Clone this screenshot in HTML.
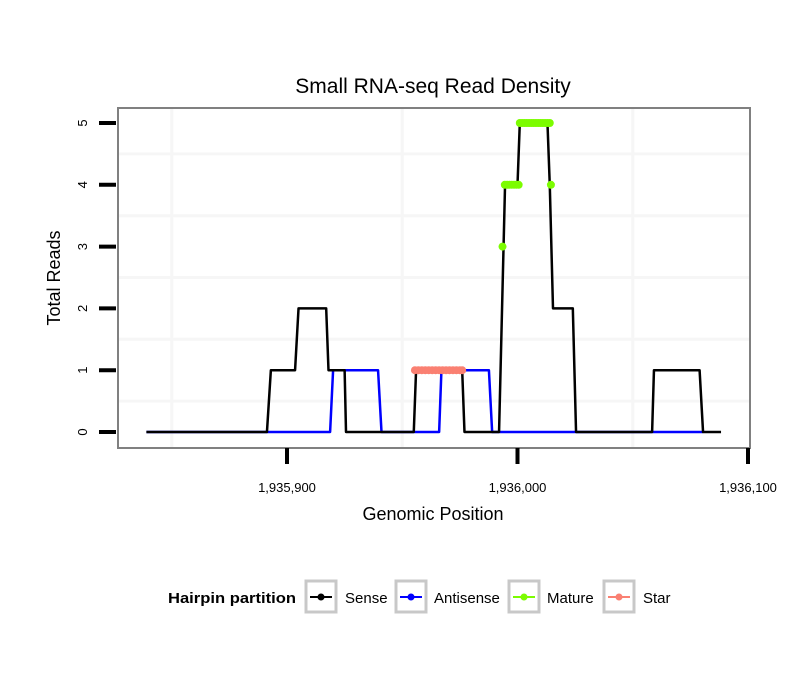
<!DOCTYPE html>
<html><head><meta charset="utf-8"><style>
body{margin:0;background:#fff;}
svg{display:block;font-family:"Liberation Sans",sans-serif;}
</style></head><body>
<svg id="chart" width="810" height="690">
<rect width="810" height="690" fill="#fff"/>
<text x="433" y="93" font-size="21" text-anchor="middle">Small RNA-seq Read Density</text>
<g id="grid"></g>
<g id="series"></g>
<rect x="118" y="108" width="632" height="340" fill="none" stroke="#808080" stroke-width="2"/>
<g id="axes"></g>
<text x="433" y="520" font-size="18" text-anchor="middle">Genomic Position</text>
<text transform="translate(60,278) rotate(-90)" font-size="18" text-anchor="middle">Total Reads</text>
<g>
<text x="168" y="603" font-size="15" font-weight="bold" textLength="128" lengthAdjust="spacingAndGlyphs">Hairpin partition</text>
<g><rect x="306" y="581" width="30" height="31" fill="#fff" stroke="#c8c8c8" stroke-width="3"/><line x1="310" y1="597" x2="332" y2="597" stroke="#000" stroke-width="2"/><circle cx="321" cy="597" r="3.5" fill="#000"/><text x="345" y="603" font-size="15">Sense</text></g>
<g><rect x="396" y="581" width="30" height="31" fill="#fff" stroke="#c8c8c8" stroke-width="3"/><line x1="400" y1="597" x2="422" y2="597" stroke="#00f" stroke-width="2"/><circle cx="411" cy="597" r="3.5" fill="#00f"/><text x="434" y="603" font-size="15">Antisense</text></g>
<g><rect x="509" y="581" width="30" height="31" fill="#fff" stroke="#c8c8c8" stroke-width="3"/><line x1="513" y1="597" x2="535" y2="597" stroke="#7cfc00" stroke-width="2"/><circle cx="524" cy="597" r="3.5" fill="#7cfc00"/><text x="547" y="603" font-size="15">Mature</text></g>
<g><rect x="604" y="581" width="30" height="31" fill="#fff" stroke="#c8c8c8" stroke-width="3"/><line x1="608" y1="597" x2="630" y2="597" stroke="#fa8072" stroke-width="2"/><circle cx="619" cy="597" r="3.5" fill="#fa8072"/><text x="643" y="603" font-size="15">Star</text></g>
</g>
</svg>
<script>
const xTicks=[1935900,1936000,1936100];
const xTickLabels=["1,935,900","1,936,000","1,936,100"];
const yTicks=[0,1,2,3,4,5];
const xGrid=[1935850,1935950,1936050];
const yGrid=[0.5,1.5,2.5,3.5,4.5];
const senseX=[1935839,1935891.3,1935893,1935903.5,1935905,1935917,1935918,1935925,1935925.6,1935955,1935956,1935976,1935977,1935992,1935994.6,1936000,1936001,1936013,1936014,1936015.4,1936024,1936025.4,1936058.4,1936059.2,1936079,1936080.5,1936088.3];
const senseY=[0,0,1,1,2,2,1,1,0,0,1,1,0,0,4,4,5,5,4,2,2,0,0,1,1,0,0];
const antiX=[1935839,1935918.7,1935920,1935939.5,1935941,1935966,1935967,1935987.6,1935989,1936080.5];
const antiY=[0,0,1,1,0,0,1,1,0,0];
const matureX=[1935993.5,1935994.5,1935995.5,1935996.5,1935997.5,1935998.5,1935999.5,1936000.5,1936001,1936002,1936003,1936004,1936005,1936006,1936007,1936008,1936009,1936010,1936011,1936012,1936013,1936014,1936014.5];
const matureY=[3,4,4,4,4,4,4,4,5,5,5,5,5,5,5,5,5,5,5,5,5,5,4];
const starX=[1935955.5,1935957,1935958.5,1935960,1935961.5,1935963,1935964.5,1935966,1935967.5,1935969,1935970.5,1935972,1935973.5,1935975,1935976];
const starY=[1,1,1,1,1,1,1,1,1,1,1,1,1,1,1];

const NS="http://www.w3.org/2000/svg";
const sx=v=>287+(v-1935900)*2.305;
const sy=v=>432-v*61.8;
function mk(tag,attrs,parent){const e=document.createElementNS(NS,tag);for(const k in attrs)e.setAttribute(k,attrs[k]);parent.appendChild(e);return e;}
const grid=document.getElementById('grid'),axes=document.getElementById('axes'),series=document.getElementById('series');
xGrid.forEach(v=>{const l=mk('line',{x1:sx(v),x2:sx(v),y1:108,y2:448,stroke:'#f6f6f6','stroke-width':3},grid);

});
yGrid.forEach(v=>{const l=mk('line',{x1:118,x2:750,y1:sy(v),y2:sy(v),stroke:'#f6f6f6','stroke-width':3},grid);

});
xTicks.forEach((v,i)=>{const t=mk('line',{x1:sx(v),x2:sx(v),y1:448,y2:464,stroke:'#000','stroke-width':4},axes);


const tx=mk('text',{x:sx(v),y:492,'font-size':13,'text-anchor':'middle'},axes);tx.textContent=xTickLabels[i];

});
yTicks.forEach(v=>{const t=mk('line',{x1:99,x2:116,y1:sy(v),y2:sy(v),stroke:'#000','stroke-width':4},axes);


const tx=mk('text',{transform:`translate(87,${sy(v)}) rotate(-90)`,'font-size':13,'text-anchor':'middle'},axes);tx.textContent=String(v);

});
function line(xs,ys,color,name){const p=mk('polyline',{points:xs.map((x,i)=>sx(x)+','+sy(ys[i])).join(' '),fill:'none',stroke:color,'stroke-width':2.5,'stroke-linejoin':'round'},series);

}
function dots(xs,ys,color,name){xs.forEach((x,i)=>{const c=mk('circle',{cx:sx(x),cy:sy(ys[i]),r:4,fill:color},series);

});}
line(antiX,antiY,'#0000ff','antisense-line');
line(senseX,senseY,'#000000','sense-line');
dots(starX,starY,'#fa8072','star-point');
dots(matureX,matureY,'#7cfc00','mature-point');
</script>
</body></html>
